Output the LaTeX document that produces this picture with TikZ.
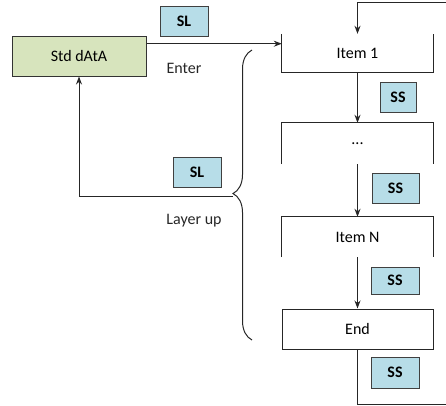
\documentclass[tikz,border=0pt]{standalone}
\usepackage{fontspec}
\setmainfont{Carlito}
\usetikzlibrary{arrows.meta,decorations.pathreplacing,calc}
\definecolor{stdgreen}{HTML}{D7E4BD}
\definecolor{tagblue}{HTML}{B7DDE8}
\definecolor{tagline}{HTML}{404040}
\tikzset{
  lbl/.style={font=\fontsize{16}{18}\selectfont, text=black!85},
  tag/.style={draw=tagline, fill=tagblue, line width=1pt, inner sep=0pt,
    font=\fontsize{16}{18}\selectfont\bfseries},
  itembox/.style={inner sep=0pt, minimum width=151pt, font=\fontsize{16}{18}\selectfont},
  stdbox/.style={draw=black!80, fill=stdgreen, line width=1pt, inner sep=0pt,
    minimum width=134pt, minimum height=40pt, font=\fontsize{16}{18}\selectfont},
  frame/.style={draw=black!85, line width=1pt},
  arr/.style={frame, -{Stealth[length=8pt,width=6pt]}}
}
\begin{document}
\begin{tikzpicture}[x=1pt,y=-1pt]
\useasboundingbox (0,0) rectangle (446,405);
% main nodes
\node[stdbox] (std) at (79,56) {Std dAtA};
\node[itembox, minimum height=38pt] (item1) at (357.5,53) {Item 1};
\node[itembox, minimum height=41pt] (dots) at (357.5,143.5) {...};
\node[itembox, minimum height=40pt] (itemN) at (357.5,237) {Item N};
\node[itembox, minimum height=40pt, frame] (end) at (357.5,329) {End};
% open borders
\draw[frame] (item1.north west) -- (item1.south west) -- (item1.south east) -- (item1.north east);
\draw[frame] (dots.south west) -- (dots.north west) -- (dots.north east) -- (dots.south east);
\draw[frame] (itemN.south west) -- (itemN.north west) -- (itemN.north east) -- (itemN.south east);
% tags
\node[tag, minimum width=48pt, minimum height=30pt] (sl1) at (184,21) {SL};
\node[tag, minimum width=48pt, minimum height=30pt] (sl2) at (197,172) {SL};
\node[tag, minimum width=36pt, minimum height=30pt] (ss1) at (398,97) {SS};
\node[tag, minimum width=47pt, minimum height=30pt] (ss2) at (395.5,188) {SS};
\node[tag, minimum width=48pt, minimum height=27pt] (ss3) at (395,280.5) {SS};
\node[tag, minimum width=48pt, minimum height=31pt] (ss4) at (395,372.5) {SS};
% labels
\node[lbl] (enter) at (184,68) {Enter};
\node[lbl] (layer) at (194,221) {Layer up};
% enter arrow
\coordinate (a) at ($(std.north east)!0.2!(std.south east)$);
\draw[arr] (a) -- (a -| item1.west);
% vertical arrows
\draw[arr] (item1.south) -- (dots.north);
\draw[arr] (dots.south) -- (itemN.north);
\draw[arr] (itemN.south) -- (end.north);
% loop back from End to Item 1
\draw[arr] (end.south) -- ++(0,55) -| (470,2) -| (item1.north);
% brace
\draw[frame, decorate, decoration={brace, amplitude=19pt, aspect=0.505}]
  (252,340) -- (252,50);
\coordinate (tip) at (233,196);
% layer up arrow
\draw[arr] (tip) -| (std.south);
\end{tikzpicture}
\end{document}
